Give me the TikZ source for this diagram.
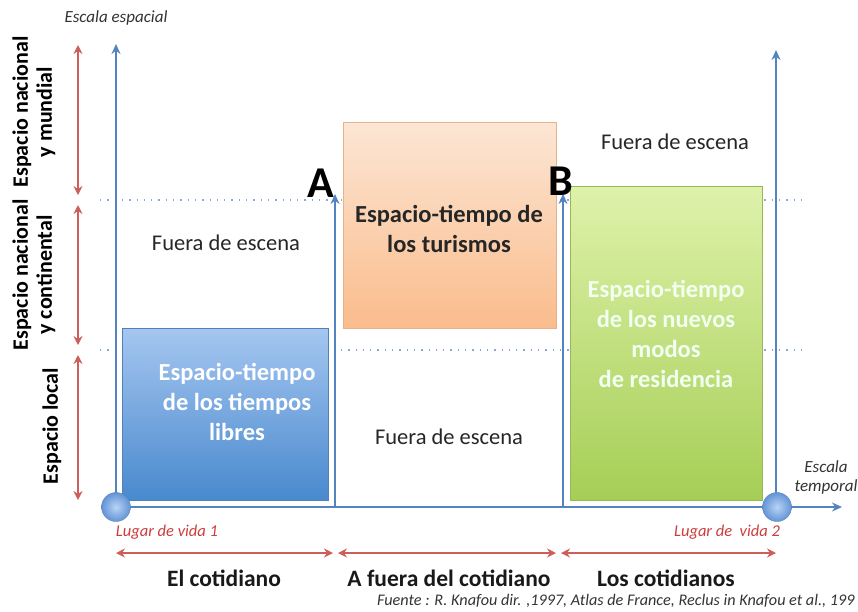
\documentclass[tikz,border=0pt]{standalone}
\usepackage{fontspec}
\setmainfont{Carlito}
\usetikzlibrary{arrows.meta}
\definecolor{axblue}{RGB}{84,132,192}
\definecolor{axred}{RGB}{205,95,90}
\definecolor{ltred}{RGB}{205,60,60}
\definecolor{bltop}{RGB}{165,198,240}
\definecolor{blbot}{RGB}{72,137,206}
\definecolor{ortop}{RGB}{252,230,212}
\definecolor{orbot}{RGB}{250,188,140}
\definecolor{grtop}{RGB}{222,242,170}
\definecolor{grbot}{RGB}{166,206,86}
\definecolor{dotin}{RGB}{185,212,246}
\definecolor{dotout}{RGB}{98,148,214}
\tikzset{
  axis/.style={draw=axblue, line width=2pt, -{Stealth[length=10pt,width=9pt]}},
  redarr/.style={draw=axred, line width=1.5pt, {Stealth[length=9pt,width=9pt]}-{Stealth[length=9pt,width=9pt]}},
  dotline/.style={draw=axblue!70, line width=1.3pt, dash pattern=on 1.3pt off 6pt},
  box/.style={line width=0.8pt, anchor=north west, inner sep=0pt},
  boxtext/.style={font=\fontsize{24.5}{30}\selectfont\bfseries, align=center},
  plain/.style={font=\fontsize{22.5}{26}\selectfont, text=black!85},
  vlab/.style={rotate=90, align=center, font=\fontsize{22}{24}\selectfont\bfseries},
  blab/.style={font=\fontsize{23.5}{26}\selectfont\bfseries, text=black!90},
  small/.style={font=\fontsize{17}{19}\selectfont\itshape, align=center, text=black!80},
  redlab/.style={font=\fontsize{16.5}{18}\selectfont\itshape, text=ltred},
  letter/.style={font=\fontsize{44}{44}\selectfont\bfseries},
  dot/.style={circle, minimum size=29pt, inner sep=0pt, inner color=dotin, outer color=dotout, draw=dotout!80!black!90, line width=0.4pt}
}
\begin{document}
\begin{tikzpicture}[x=1pt,y=-1pt]
\useasboundingbox (0,0) rectangle (858,611);
% dotted levels
\coordinate (d1a) at (100,200); \coordinate (d1b) at (808,200);
\coordinate (d2a) at (100,350); \coordinate (d2b) at (808,350);
\draw[dotline] (d1a) -- (d1b);
\draw[dotline] (d2a) -- (d2b);
% boxes
\node[box, minimum width=206pt, minimum height=172pt, top color=bltop, bottom color=blbot, draw=blbot!85!black!90] (bl) at (122,328) {};
\node[boxtext, text=white] (blt) at (237,402) {Espacio-tiempo\\de los tiempos\\libres};
\node[box, minimum width=213pt, minimum height=206pt, top color=ortop, bottom color=orbot, draw=orbot!90!black!90] (or) at (343,122) {};
\node[boxtext, text=black!85] (ort) at (449,229) {Espacio-tiempo de\\los turismos};
\node[box, minimum width=192pt, minimum height=314pt, top color=grtop, bottom color=grbot, draw=grbot!85!black!90] (gr) at (570,186) {};
\node[boxtext, text=white!95!green] (grt) at (666,334) {Espacio-tiempo\\de los nuevos\\modos\\de residencia};
% axes
\coordinate (o) at (116,507);
\coordinate (ytop) at (116,44);
\coordinate (xend) at (842,507);
\coordinate (abot) at (335,507); \coordinate (atop) at (335,194);
\coordinate (bbot) at (563,507); \coordinate (btop) at (563,194);
\coordinate (rbot) at (776,507); \coordinate (rtop) at (776,50);
\draw[axis] (o) -- (ytop);
\draw[axis] (o) -- (xend);
\draw[axis] (abot) -- (atop);
\draw[axis] (bbot) -- (btop);
\draw[axis] (rbot) -- (rtop);
\node[dot] (c1) at (116,507) {};
\node[dot] (c2) at (777,507) {};
\node[letter] (A) at (321,183) {A};
\node[letter] (B) at (561,181) {B};
% left red arrows
\coordinate (l1a) at (78,45); \coordinate (l1b) at (78,195);
\coordinate (l2a) at (78,205); \coordinate (l2b) at (78,345);
\coordinate (l3a) at (78,355); \coordinate (l3b) at (78,500);
\draw[redarr] (l1a) -- (l1b);
\draw[redarr] (l2a) -- (l2b);
\draw[redarr] (l3a) -- (l3b);
% bottom red arrows
\coordinate (b1a) at (116,553); \coordinate (b1b) at (333,553);
\coordinate (b2a) at (338,553); \coordinate (b2b) at (556,553);
\coordinate (b3a) at (561,553); \coordinate (b3b) at (776,553);
\draw[redarr] (b1a) -- (b1b);
\draw[redarr] (b2a) -- (b2b);
\draw[redarr] (b3a) -- (b3b);
% labels
\node[small] (esp) at (116,18) {Escala espacial};
\node[small] (tmp) at (826,477) {Escala\\temporal};
\node[vlab] (v1) at (34,112) {Espacio nacional\\y mundial};
\node[vlab] (v2) at (34,275) {Espacio nacional\\y continental};
\node[vlab] (v3) at (52,426) {Espacio local};
\node[plain] (f1) at (226,243) {Fuera de escena};
\node[plain] (f2) at (449,437) {Fuera de escena};
\node[plain] (f3) at (675,142) {Fuera de escena};
\node[redlab] (lv1) at (167,532) {Lugar de vida 1};
\node[redlab] (lv2) at (727,532) {Lugar de\ \ vida 2};
\node[blab] (e1) at (224,578) {El cotidiano};
\node[blab] (e2) at (449,578) {A fuera del cotidiano};
\node[blab] (e3) at (666,578) {Los cotidianos};
\node[font=\fontsize{16.2}{18}\selectfont\itshape, text=black!80, anchor=east] (src) at (858,601) {Fuente : R. Knafou dir. ,1997, Atlas de France, Reclus in Knafou et al., 199};
\end{tikzpicture}
\end{document}
